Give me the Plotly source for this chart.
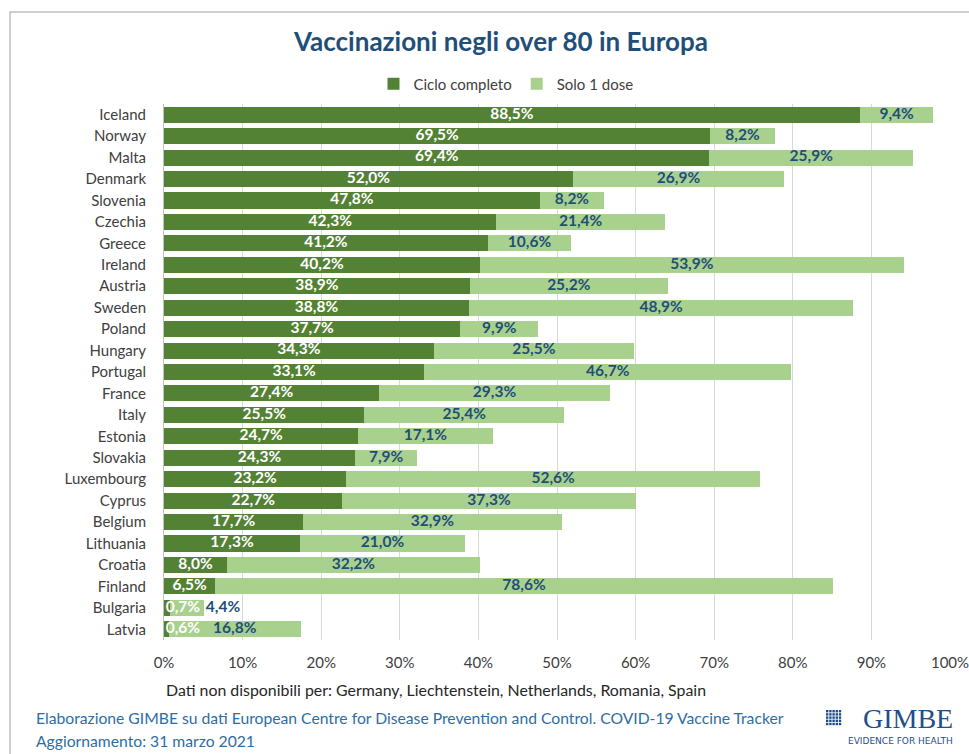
import plotly.graph_objects as go

countries = ["Iceland", "Norway", "Malta", "Denmark", "Slovenia", "Czechia", "Greece",
             "Ireland", "Austria", "Sweden", "Poland", "Hungary", "Portugal", "France",
             "Italy", "Estonia", "Slovakia", "Luxembourg", "Cyprus", "Belgium",
             "Lithuania", "Croatia", "Finland", "Bulgaria", "Latvia"]
ciclo_completo = [88.5, 69.5, 69.4, 52.0, 47.8, 42.3, 41.2, 40.2, 38.9, 38.8, 37.7, 34.3,
                  33.1, 27.4, 25.5, 24.7, 24.3, 23.2, 22.7, 17.7, 17.3, 8.0, 6.5, 0.7, 0.6]
solo_1_dose = [9.4, 8.2, 25.9, 26.9, 8.2, 21.4, 10.6, 53.9, 25.2, 48.9, 9.9, 25.5,
               46.7, 29.3, 25.4, 17.1, 7.9, 52.6, 37.3, 32.9, 21.0, 32.2, 78.6, 4.4, 16.8]
tick_vals = [0, 10, 20, 30, 40, 50, 60, 70, 80, 90, 100]
tick_text = [f"{v}%" for v in tick_vals]

DARK = "#548235"
LIGHT = "#A9D18E"
BLUE = "#1F4E79"
FONT = "Lato, Carlito, sans-serif"

W, H = 969, 754
L, R, T, B = 164, 19, 104, 114
PW, PH = W - L - R, H - T - B


def px_x(x):
    return (x - L) / PW


def px_y(y):
    return (H - B - y) / PH


def fmt(v):
    return f"{v:.1f}%".replace(".", ",")


fig = go.Figure()
fig.add_trace(go.Bar(y=countries, x=ciclo_completo, orientation="h", name="Ciclo completo",
                     marker=dict(color=DARK, line=dict(width=0)), width=0.75))
fig.add_trace(go.Bar(y=countries, x=solo_1_dose, orientation="h", name="Solo 1 dose",
                     marker=dict(color=LIGHT, line=dict(width=0)), width=0.75))

# label positions (centre of each segment; tiny segments pushed out to stay legible)
dark_x = [v / 2 if v > 3 else 2.4 for v in ciclo_completo]
light_x = []
for c, s in zip(ciclo_completo, solo_1_dose):
    if s < 6:
        light_x.append(c + s + 2.4)
    else:
        light_x.append(c + s / 2)

fig.add_trace(go.Scatter(y=countries, x=dark_x, mode="text",
                         text=[fmt(v) for v in ciclo_completo],
                         textfont=dict(family=FONT, size=15.5, color="white", weight="bold"),
                         showlegend=False, hoverinfo="skip"))
fig.add_trace(go.Scatter(y=countries, x=light_x, mode="text",
                         text=[fmt(v) for v in solo_1_dose],
                         textfont=dict(family=FONT, size=15.5, color=BLUE, weight="bold"),
                         showlegend=False, hoverinfo="skip"))

fig.update_layout(
    width=W, height=H,
    barmode="stack",
    paper_bgcolor="white", plot_bgcolor="white",
    margin=dict(l=L, r=R, t=T, b=B, autoexpand=False),
    font=dict(family=FONT, size=15, color="#404040"),
    title=dict(text="<b>Vaccinazioni negli over 80 in Europa</b>", x=501 / W, xanchor="center",
               y=1 - 42 / H, yanchor="middle", xref="container", yref="container",
               font=dict(family=FONT, size=26, color=BLUE)),
    legend=dict(orientation="h", xref="container", yref="container",
                x=506 / W, xanchor="center", y=1 - 84 / H, yanchor="middle",
                font=dict(family=FONT, size=15, color="#404040"), traceorder="normal",
                bgcolor="rgba(0,0,0,0)"),
    xaxis=dict(range=[0, 100], tickvals=tick_vals, ticktext=tick_text, showgrid=True,
               gridcolor="#D9D9D9", gridwidth=1, zeroline=False, showline=False,
               ticks="", ticklabelstandoff=12, ticklabeloverflow="allow",
               tickfont=dict(size=15, color="#404040"), fixedrange=True),
    yaxis=dict(range=[len(countries) - 0.5, -0.5], autorange=False, showline=True,
               linecolor="#BFBFBF", linewidth=1,
               ticks="", ticklabelstandoff=14, tickfont=dict(size=15, color="#404040"),
               showgrid=False, fixedrange=True),
    bargap=0.25,
)

# frame border
fig.add_shape(type="rect", xref="paper", yref="paper",
              x0=px_x(10), x1=px_x(1000), y0=px_y(800), y1=px_y(12),
              line=dict(color="#BFBFBF", width=1.5), fillcolor="rgba(0,0,0,0)", layer="below")

fig.add_annotation(text="Dati non disponibili per: Germany, Liechtenstein, Netherlands, Romania, Spain",
                   xref="paper", yref="paper", x=px_x(164), xanchor="left", y=px_y(689),
                   yanchor="middle", showarrow=False,
                   font=dict(family=FONT, size=15.9, color="#262626"))
FOOT = "#2E6DA4"
fig.add_annotation(text="Elaborazione GIMBE su dati European Centre for Disease Prevention and Control. COVID-19 Vaccine Tracker",
                   xref="paper", yref="paper", x=px_x(34), xanchor="left", y=px_y(718),
                   yanchor="middle", showarrow=False, font=dict(family=FONT, size=15.7, color=FOOT))
fig.add_annotation(text="Aggiornamento: 31 marzo 2021",
                   xref="paper", yref="paper", x=px_x(34), xanchor="left", y=px_y(741),
                   yanchor="middle", showarrow=False, font=dict(family=FONT, size=15.7, color=FOOT))

# GIMBE logo
LOGO = "#1F4E8C"
fig.add_annotation(text="GIMBE", xref="paper", yref="paper", x=px_x(955), xanchor="right",
                   y=px_y(718), yanchor="middle", showarrow=False,
                   font=dict(family="'Liberation Serif', 'DejaVu Serif', serif", size=28, color=LOGO))
fig.add_annotation(text="EVIDENCE FOR HEALTH", xref="paper", yref="paper", x=px_x(955),
                   xanchor="right", y=px_y(741), yanchor="middle", showarrow=False,
                   font=dict(family="'DejaVu Sans', sans-serif", size=9, color=LOGO))
for i in range(5):
    for j in range(5):
        px0 = 826 + i * 3.2
        py0 = 710 + j * 3.2
        fig.add_shape(type="rect", xref="paper", yref="paper",
                      x0=px_x(px0), x1=px_x(px0 + 2.4),
                      y0=px_y(py0 + 2.4), y1=px_y(py0),
                      line=dict(width=0), fillcolor=LOGO)

fig.write_html("out.html", config={"displayModeBar": False},
               post_script="document.body.style.margin='0';")
